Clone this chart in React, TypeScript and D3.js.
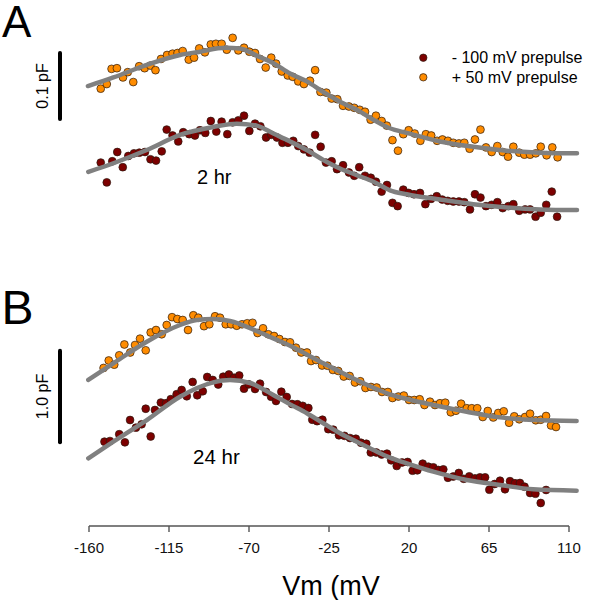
import React from "react";
import * as d3 from "d3";

// ---------- DATA ----------
// Voltage (mV) vs. non-linear capacitance (pF, traces offset)
const xTicks = [-160, -115, -70, -25, 20, 65, 110];

// Panel A (2 hr)
const a_plus50: [number, number][] = [
  [-153.4, 0.199], [-150.0, 0.206], [-147.3, 0.229], [-144.3, 0.23], [-140.9, 0.216], [-138.2, 0.224],
  [-135.1, 0.209], [-131.8, 0.233], [-128.7, 0.23], [-125.5, 0.234], [-122.6, 0.227], [-119.5, 0.244],
  [-116.1, 0.25], [-113.0, 0.252], [-110.2, 0.253], [-107.3, 0.256], [-103.9, 0.243], [-100.9, 0.246],
  [-98.0, 0.26], [-94.8, 0.254], [-91.5, 0.266], [-88.6, 0.267], [-85.4, 0.267], [-82.5, 0.258],
  [-79.2, 0.276], [-76.0, 0.257], [-72.8, 0.261], [-69.8, 0.255], [-66.6, 0.253], [-63.8, 0.244],
  [-60.6, 0.231], [-57.5, 0.246], [-54.8, 0.237], [-51.6, 0.225], [-48.2, 0.219], [-45.4, 0.217],
  [-42.3, 0.21], [-39.1, 0.206], [-35.7, 0.211], [-32.8, 0.227], [-29.8, 0.194], [-26.5, 0.193],
  [-23.5, 0.184], [-20.3, 0.183], [-17.1, 0.173], [-13.8, 0.172], [-10.8, 0.17], [-7.7, 0.167],
  [-4.75, 0.164], [-1.6, 0.152], [1.4, 0.158], [4.6, 0.15], [7.5, 0.143], [10.7, 0.121],
  [13.8, 0.105], [16.8, 0.13], [19.8, 0.136], [23.2, 0.131], [26.4, 0.12], [29.5, 0.13],
  [32.5, 0.128], [35.8, 0.12], [38.8, 0.122], [41.9, 0.12], [44.9, 0.117], [48.1, 0.116],
  [51.1, 0.117], [54.1, 0.108], [57.1, 0.122], [60.2, 0.137], [63.3, 0.11], [66.5, 0.103],
  [69.7, 0.112], [72.7, 0.103], [75.7, 0.096], [78.7, 0.111], [82.0, 0.102], [84.9, 0.099],
  [88.1, 0.099], [91.3, 0.101], [94.1, 0.111], [97.4, 0.098], [100.6, 0.11], [103.6, 0.095],
];
const a_minus100: [number, number][] = [
  [-153.4, 0.087], [-150.0, 0.057], [-146.9, 0.089], [-144.1, 0.103], [-141.0, 0.08], [-137.9, 0.097],
  [-134.7, 0.101], [-131.7, 0.102], [-128.5, 0.103], [-125.4, 0.092], [-122.3, 0.09], [-119.1, 0.104],
  [-116.3, 0.137], [-113.0, 0.128], [-109.8, 0.119], [-107.0, 0.133], [-103.6, 0.13], [-100.4, 0.128],
  [-97.6, 0.136], [-94.6, 0.132], [-91.5, 0.15], [-88.4, 0.134], [-85.4, 0.149], [-82.2, 0.13],
  [-79.2, 0.148], [-76.0, 0.151], [-72.8, 0.158], [-69.8, 0.135], [-66.6, 0.146], [-63.6, 0.142],
  [-60.4, 0.125], [-57.5, 0.129], [-54.3, 0.125], [-51.2, 0.117], [-48.1, 0.117], [-45.1, 0.12],
  [-42.3, 0.112], [-39.1, 0.107], [-35.9, 0.102], [-32.8, 0.129], [-29.7, 0.111], [-26.7, 0.087],
  [-23.5, 0.089], [-20.5, 0.077], [-17.1, 0.083], [-13.8, 0.072], [-10.8, 0.067], [-8.0, 0.08],
  [-4.75, 0.067], [-1.5, 0.064], [1.4, 0.058], [4.6, 0.043], [7.6, 0.053], [10.7, 0.026],
  [13.6, 0.021], [16.8, 0.046], [19.8, 0.041], [22.8, 0.039], [26.2, 0.041], [29.2, 0.024],
  [32.4, 0.032], [35.6, 0.036], [38.7, 0.031], [41.8, 0.029], [44.9, 0.028], [48.1, 0.028],
  [51.1, 0.027], [54.3, 0.016], [57.1, 0.039], [60.2, 0.034], [63.3, 0.021], [66.5, 0.023],
  [69.7, 0.027], [72.7, 0.018], [75.9, 0.021], [78.7, 0.024], [82.0, 0.014], [85.3, 0.016],
  [88.1, 0.016], [91.2, 0.005], [94.1, 0.011], [97.2, 0.023], [100.3, 0.043], [103.3, 0.005],
];
const a_plus50Fit: [number, number][] = [
  [-160.6, 0.203], [-146.3, 0.216], [-127.5, 0.235], [-108.8, 0.25], [-97.6, 0.255], [-83.5, 0.261],
  [-75.1, 0.26], [-65.7, 0.249], [-56.5, 0.238], [-46.9, 0.222], [-37.5, 0.21], [-28.2, 0.194],
  [-18.8, 0.179], [-9.4, 0.167], [0.0, 0.152], [9.3, 0.139], [18.7, 0.132], [37.4, 0.119],
  [56.2, 0.111], [75.0, 0.105], [93.7, 0.102], [114.5, 0.101],
];
const a_minus100Fit: [number, number][] = [
  [-160.4, 0.073], [-146.3, 0.086], [-127.5, 0.106], [-108.8, 0.129], [-90.1, 0.141], [-76.9, 0.146],
  [-65.7, 0.143], [-56.3, 0.131], [-46.9, 0.119], [-37.5, 0.106], [-28.2, 0.091], [-18.8, 0.078],
  [-9.4, 0.068], [0.0, 0.058], [9.3, 0.045], [18.7, 0.039], [37.4, 0.031], [56.2, 0.024],
  [75.0, 0.019], [93.7, 0.016], [114.5, 0.015],
];

// Panel B (24 hr)
const b_plus50: [number, number][] = [
  [-151.8, 1.451], [-148.9, 1.533], [-145.8, 1.487], [-143.0, 1.59], [-140.1, 1.709], [-136.8, 1.621],
  [-134.1, 1.703], [-131.3, 1.773], [-128.1, 1.645], [-125.3, 1.841], [-122.3, 1.868], [-119.1, 1.821],
  [-116.3, 1.923], [-113.3, 2.009], [-110.3, 1.989], [-107.3, 1.978], [-104.3, 1.868], [-101.3, 2.03],
  [-98.5, 2.003], [-95.3, 1.91], [-92.3, 1.931], [-89.1, 2.019], [-86.3, 2.003], [-83.1, 1.931],
  [-80.1, 1.931], [-76.9, 1.915], [-73.9, 1.931], [-71.0, 1.942], [-68.0, 1.947], [-65.2, 1.835],
  [-62.1, 1.887], [-59.1, 1.821], [-55.9, 1.802], [-52.9, 1.769], [-49.8, 1.736], [-46.9, 1.733],
  [-43.6, 1.674], [-40.6, 1.621], [-37.4, 1.621], [-35.1, 1.527], [-32.3, 1.538], [-28.9, 1.478],
  [-25.9, 1.476], [-22.8, 1.429], [-19.8, 1.418], [-16.7, 1.357], [-13.4, 1.363], [-10.4, 1.291],
  [-7.4, 1.305], [-4.5, 1.231], [-1.4, 1.242], [1.8, 1.236], [4.8, 1.187], [8.1, 1.187],
  [10.7, 1.121], [14.0, 1.137], [17.1, 1.148], [20.0, 1.099], [23.0, 1.099], [26.0, 1.107],
  [28.7, 1.044], [31.8, 1.08], [34.6, 1.044], [37.4, 1.063], [40.4, 1.069], [43.5, 0.964],
  [46.4, 0.981], [49.3, 1.058], [52.5, 1.008], [55.3, 1.008], [58.4, 1.008], [61.5, 0.912],
  [64.3, 0.978], [67.4, 0.907], [70.2, 0.956], [73.3, 0.975], [76.3, 0.849], [79.2, 0.92],
  [82.0, 0.887], [85.3, 0.912], [88.1, 0.948], [91.3, 0.876], [94.1, 0.882], [97.1, 0.923],
  [99.9, 0.819], [102.7, 0.802],
];
const b_minus100: [number, number][] = [
  [-151.3, 0.641], [-148.2, 0.648], [-143.0, 0.723], [-139.8, 0.634], [-136.9, 0.879], [-133.6, 0.795],
  [-130.4, 0.832], [-128.1, 1.003], [-125.3, 0.698], [-122.9, 0.989], [-119.6, 1.071], [-116.7, 1.063],
  [-114.0, 1.108], [-110.7, 1.162], [-107.9, 1.209], [-105.0, 1.14], [-101.7, 1.297], [-99.1, 1.151],
  [-96.0, 1.195], [-93.5, 1.352], [-90.4, 1.319], [-87.3, 1.269], [-84.5, 1.355], [-81.3, 1.379],
  [-78.4, 1.344], [-75.5, 1.368], [-72.8, 1.223], [-70.1, 1.271], [-66.6, 1.22], [-63.8, 1.278],
  [-60.4, 1.187], [-57.6, 1.135], [-54.8, 1.088], [-51.8, 1.19], [-48.8, 1.132], [-45.8, 1.055],
  [-42.8, 1.052], [-39.8, 1.035], [-36.6, 1.011], [-34.4, 0.882], [-31.7, 0.866], [-28.7, 0.882],
  [-25.4, 0.778], [-22.6, 0.773], [-19.4, 0.711], [-16.3, 0.705], [-13.2, 0.681], [-9.9, 0.673],
  [-7.0, 0.629], [-4.0, 0.618], [-1.5, 0.522], [1.6, 0.522], [4.6, 0.5], [7.6, 0.509],
  [10.0, 0.436], [13.1, 0.374], [16.1, 0.412], [19.2, 0.418], [22.0, 0.322], [24.7, 0.326],
  [27.7, 0.399], [30.9, 0.366], [33.7, 0.359], [36.5, 0.33], [39.3, 0.337], [41.9, 0.244],
  [44.9, 0.258], [48.0, 0.297], [50.8, 0.233], [53.9, 0.26], [57.1, 0.238], [59.9, 0.249],
  [62.8, 0.249], [65.2, 0.113], [68.2, 0.176], [71.2, 0.212], [74.0, 0.118], [76.8, 0.207],
  [79.6, 0.184], [82.4, 0.187], [85.0, 0.146], [88.1, 0.077], [91.1, 0.069], [94.1, -0.033],
  [97.1, 0.11],
];
const b_plus50Fit: [number, number][] = [
  [-160.4, 1.319], [-146.3, 1.502], [-127.5, 1.739], [-108.8, 1.923], [-99.4, 1.978], [-90.1, 1.989],
  [-80.7, 1.967], [-65.7, 1.857], [-56.3, 1.776], [-46.9, 1.695], [-37.5, 1.6], [-28.2, 1.502],
  [-18.8, 1.41], [-9.4, 1.319], [0.0, 1.234], [9.3, 1.161], [18.7, 1.11], [33.7, 1.044],
  [52.5, 0.97], [71.2, 0.908], [89.9, 0.879], [114.3, 0.868],
];
const b_minus100Fit: [number, number][] = [
  [-160.4, 0.458], [-146.3, 0.641], [-127.5, 0.879], [-108.8, 1.135], [-90.1, 1.293], [-80.7, 1.319],
  [-69.4, 1.286], [-56.3, 1.154], [-46.9, 1.051], [-37.5, 0.953], [-28.2, 0.843], [-18.8, 0.733],
  [-9.4, 0.641], [0.0, 0.549], [9.3, 0.465], [18.7, 0.403], [33.7, 0.311], [52.5, 0.22],
  [71.2, 0.165], [89.9, 0.117], [114.3, 0.102],
];

const legendLabels = ["- 100 mV prepulse", "+ 50 mV prepulse"];
const panelLabels = ["A", "B"];
const timeLabels = ["2 hr", "24 hr"];
const scaleBarLabels = ["0.1 pF", "1.0 pF"];

// ---------- STYLE ----------
const MAROON = "#7d0000";
const ORANGE = "#ff8c00";
const FIT = "#808080";
const FONT = "'Liberation Sans', Arial, Helvetica, sans-serif";

export default function App() {
  const W = 589, H = 600;
  const x = d3.scaleLinear().domain([-160, 110]).range([89, 569]);
  const yA = d3.scaleLinear().domain([0, 0.1]).range([220, 154]);
  const yB = d3.scaleLinear().domain([0, 1]).range([500, 409]);

  const lineGen = (y: d3.ScaleLinear<number, number>) =>
    d3.line<[number, number]>().x((d) => x(d[0])).y((d) => y(d[1])).curve(d3.curveMonotoneX);

  const dots = (data: [number, number][], y: d3.ScaleLinear<number, number>, fill: string, key: string) =>
    data.map((d, i) => (
      <circle key={key + i} cx={x(d[0])} cy={y(d[1])} r={3.9} fill={fill} stroke="#2a1a10" strokeWidth={0.7} />
    ));

  const fit = (data: [number, number][], y: d3.ScaleLinear<number, number>) => (
    <path d={lineGen(y)(data) || ""} fill="none" stroke={FIT} strokeWidth={4.5} strokeLinecap="round" strokeLinejoin="round" />
  );

  return (
    <svg width={W} height={H} style={{ position: "absolute", left: 0, top: 0, background: "#fff" }} fontFamily={FONT}>
      {/* Panel labels */}
      <text x={2} y={37} fontSize={44}>{panelLabels[0]}</text>
      <text x={1.5} y={324} fontSize={48}>{panelLabels[1]}</text>

      {/* Scale bars */}
      <line x1={60} x2={60} y1={yA(0.153)} y2={yA(0.253)} stroke="#000" strokeWidth={4} strokeLinecap="round" />
      <text transform={`translate(48,${(yA(0.153) + yA(0.253)) / 2}) rotate(-90)`} textAnchor="middle" fontSize={16}>
        {scaleBarLabels[0]}
      </text>
      <line x1={60} x2={60} y1={yB(0.634)} y2={yB(1.641)} stroke="#000" strokeWidth={4} strokeLinecap="round" />
      <text transform={`translate(48,${(yB(0.634) + yB(1.641)) / 2}) rotate(-90)`} textAnchor="middle" fontSize={16}>
        {scaleBarLabels[1]}
      </text>

      {/* Panel A */}
      <g>
        {dots(a_plus50, yA, ORANGE, "ap")}
        {dots(a_minus100, yA, MAROON, "am")}
        {fit(a_plus50Fit, yA)}
        {fit(a_minus100Fit, yA)}
      </g>
      <text x={197} y={183.5} fontSize={20}>{timeLabels[0]}</text>

      {/* Panel B */}
      <g>
        {dots(b_plus50, yB, ORANGE, "bp")}
        {dots(b_minus100, yB, MAROON, "bm")}
        {fit(b_plus50Fit, yB)}
        {fit(b_minus100Fit, yB)}
      </g>
      <text x={193} y={463.5} fontSize={20.5}>{timeLabels[1]}</text>

      {/* Legend */}
      {[MAROON, ORANGE].map((c, i) => (
        <g key={"lg" + i}>
          <circle cx={423.3} cy={57.7 + i * 19.6} r={3.7} fill={c} stroke="#2a1a10" strokeWidth={0.7} />
          <text x={451.7} y={57.7 + i * 19.6 + 5.6} fontSize={16}>{legendLabels[i]}</text>
        </g>
      ))}

      {/* X axis */}
      <g>
        <line x1={x(-160)} x2={x(110)} y1={526} y2={526} stroke="#555" strokeWidth={1.4} />
        {xTicks.map((t) => (
          <g key={"t" + t}>
            <line x1={x(t)} x2={x(t)} y1={526} y2={532} stroke="#555" strokeWidth={1.4} />
            <text x={x(t)} y={553} textAnchor="middle" fontSize={15} fill="#111">{t}</text>
          </g>
        ))}
        <text x={(x(-160) + x(110)) / 2 + 2} y={595} textAnchor="middle" fontSize={27}>Vm (mV</text>
      </g>
    </svg>
  );
}
